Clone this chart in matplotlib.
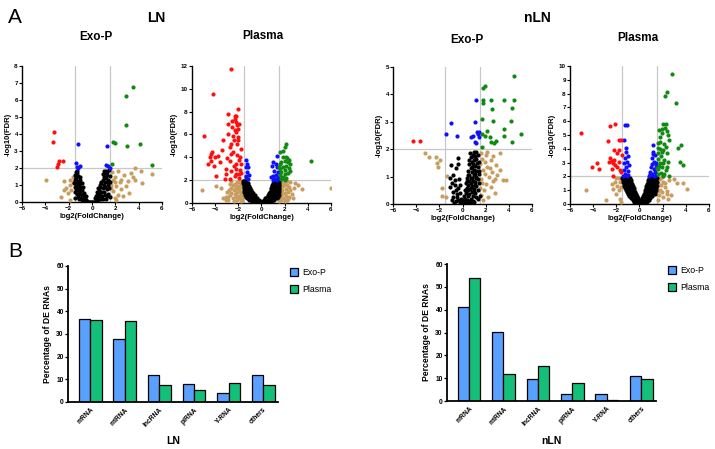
import matplotlib
matplotlib.use("Agg")
import matplotlib.pyplot as plt
from matplotlib.patches import Patch

plt.rcParams['font.family'] = ['Liberation Sans', 'DejaVu Sans']

# ---------------- volcano data: (log2FC, -log10FDR) ----------------
ln_exo_red = [(-3.3, 4.13), (-3.35, 3.56), (-2.5, 2.4), (-2.8, 2.4), (-2.9, 2.25), (-3.0, 2.08)]
ln_exo_blue = [(-1.16, 3.4), (-1.39, 2.31), (-1.27, 2.09), (-1.05, 2.11), (-1.19, 2.0),
               (1.25, 3.27), (1.19, 2.19), (1.33, 2.11), (1.5, 2.0)]
ln_exo_green = [(3.54, 6.79), (2.88, 6.26), (2.88, 4.56), (1.79, 3.56), (1.93, 3.48),
                (3.02, 3.27), (4.08, 3.39), (5.14, 2.15), (1.7, 2.23)]
ln_exo_tan = [(-3.94, 1.31), (-2.42, 1.21), (-1.85, 1.31), (-1.65, 1.17), (-1.93, 1.02),
              (-2.22, 0.82), (-1.79, 0.68), (-2.08, 0.53), (-2.65, 0.27), (-1.93, 0.14),
              (-1.6, 1.5), (-2.36, 0.72), (3.65, 2.0), (2.22, 1.8), (2.71, 1.6), (3.37, 1.7),
              (4.23, 1.8), (5.14, 1.64), (3.51, 1.5), (3.65, 1.31), (1.79, 1.31), (1.93, 1.15),
              (1.65, 1.02), (2.08, 0.92), (2.36, 1.15), (2.94, 0.92), (2.51, 0.76), (1.79, 0.63),
              (2.22, 0.43), (1.93, 0.23), (2.65, 0.33), (4.3, 1.12), (3.08, 1.21), (1.65, 0.82),
              (2.08, 0.14), (1.56, 0.33), (2.0, 1.5), (1.7, 1.75), (2.5, 1.3), (3.2, 0.55)]
ln_exo_black = [(-1.5, 1.6), (-1.4, 1.5), (-1.3, 1.7), (-1.2, 1.55), (-1.45, 1.3), (-1.3, 1.25),
                (-1.15, 1.2), (-1.0, 1.3), (-1.4, 1.05), (-1.25, 0.95), (-1.1, 1.0), (-0.95, 0.9),
                (-1.35, 0.75), (-1.2, 0.7), (-1.0, 0.65), (-0.85, 0.7), (-1.3, 0.5), (-1.1, 0.45),
                (-0.9, 0.4), (-0.75, 0.5), (-1.2, 0.3), (-1.0, 0.25), (-0.8, 0.2), (-0.6, 0.3),
                (-0.9, 0.1), (-0.7, 0.08), (-0.5, 0.12), (-0.4, 0.05), (-0.3, 0.02), (-1.1, 0.15),
                (-0.6, 0.15), (-1.25, 1.85), (-1.05, 1.45), (-0.9, 1.1), (-0.7, 0.35),
                (-1.45, 0.6), (-1.5, 0.9), (-1.35, 1.4), (-1.15, 0.55), (-1.05, 0.85), (-0.8, 0.9),
                (0.2, 0.03), (0.3, 0.08), (0.4, 0.15), (0.5, 0.2), (0.35, 0.35), (0.6, 0.3),
                (0.5, 0.5), (0.7, 0.45), (0.6, 0.7), (0.8, 0.6), (0.7, 0.9), (0.9, 0.8),
                (0.8, 1.1), (1.0, 1.0), (0.9, 1.3), (1.1, 1.2), (1.0, 1.5), (1.2, 1.4),
                (1.1, 1.7), (1.3, 1.6), (1.2, 1.85), (1.4, 1.3), (1.35, 1.0), (1.25, 0.75),
                (1.4, 0.5), (1.1, 0.4), (0.95, 0.2), (0.75, 0.15), (1.2, 0.2), (1.45, 0.8),
                (0.55, 0.05), (0.0, 0.01), (0.1, 0.02), (-0.1, 0.01), (-0.2, 0.03), (1.45, 1.9),
                (0.65, 1.0), (1.5, 1.55), (1.05, 0.6), (0.85, 0.35), (1.3, 0.35), (1.15, 0.9),
                (0.95, 1.65), (0.75, 1.2), (1.5, 1.15), (1.3, 1.75), (0.45, 0.6),
                (-1.55, 1.1), (-1.45, 0.25), (-0.65, 0.55), (-0.5, 0.35), (0.25, 0.25), (0.4, 0.4),
                (0.55, 0.85), (1.5, 0.3), (1.35, 1.2), (-1.4, 1.75), (-1.2, 1.05), (1.05, 1.85)]

ln_pla_red = [(-2.66, 11.77), (-4.19, 9.58), (-2.06, 8.26), (-2.86, 7.8), (-2.32, 7.59),
              (-2.26, 7.36), (-2.58, 7.15), (-2.17, 7.07), (-2.86, 6.92), (-2.09, 6.86),
              (-2.58, 6.66), (-2.03, 6.51), (-2.17, 6.22), (-2.89, 6.07), (-4.94, 5.9),
              (-2.46, 5.9), (-2.03, 5.78), (-2.66, 5.2), (-2.4, 5.49), (-2.0, 5.49),
              (-3.32, 5.49), (-2.75, 4.9), (-1.8, 4.76), (-3.38, 4.64), (-4.24, 4.47),
              (-4.36, 4.29), (-3.76, 4.15), (-2.6, 4.29), (-2.12, 4.23), (-4.47, 4.0),
              (-4.04, 4.0), (-2.98, 3.94), (-1.88, 4.0), (-1.94, 3.74), (-4.39, 3.65),
              (-3.61, 3.62), (-2.75, 3.65), (-4.62, 3.39), (-4.13, 3.27), (-2.23, 3.45),
              (-1.74, 3.45), (-3.04, 3.01), (-2.17, 3.01), (-1.83, 2.89), (-2.6, 2.8),
              (-3.04, 2.57), (-2.17, 2.57), (-1.74, 2.6), (-3.9, 2.34), (-2.32, 2.34),
              (-1.94, 2.22), (-2.75, 2.13), (-3.15, 2.13), (-2.3, 6.4), (-2.1, 5.2),
              (-2.5, 4.5), (-2.2, 7.6), (-1.95, 6.9), (-2.4, 3.2), (-1.9, 2.5)]
ln_pla_blue = [(-1.31, 3.74), (-1.22, 3.45), (-1.37, 3.15), (-1.14, 3.15), (-1.25, 2.69),
               (-1.11, 2.48), (-1.34, 2.28), (-1.19, 2.1), (-1.3, 2.4), (1.34, 4.09),
               (0.99, 3.56), (1.22, 3.42), (0.94, 3.27), (1.34, 3.12), (1.05, 2.83),
               (1.42, 2.69), (1.22, 2.48), (0.99, 2.39), (1.45, 2.31), (1.14, 2.1), (0.85, 2.25),
               (1.3, 2.05), (1.0, 2.05)]
ln_pla_green = [(2.14, 5.2), (1.57, 4.5), (2.0, 4.88), (1.86, 4.58), (2.09, 4.06), (1.86, 4.0),
                (2.35, 3.77), (2.0, 3.71), (4.3, 3.71), (1.71, 3.56), (2.3, 3.56), (2.45, 3.42),
                (1.57, 3.42), (2.14, 3.27), (1.86, 3.12), (2.35, 3.07), (1.57, 2.98), (2.0, 2.89),
                (1.71, 2.69), (2.3, 2.6), (2.0, 2.54), (1.57, 2.48), (1.86, 2.31), (2.14, 2.19),
                (1.66, 2.1), (2.0, 2.01), (2.45, 2.83), (1.53, 3.12), (2.2, 3.9), (1.8, 2.15)]
ln_pla_tan = [(-1.7, 1.9), (-1.9, 1.8), (-2.1, 1.85), (-2.3, 1.7), (-1.8, 1.6), (-2.0, 1.5),
              (-2.5, 1.55), (-1.7, 1.4), (-2.2, 1.35), (-2.6, 1.3), (-1.9, 1.2), (-2.4, 1.1),
              (-2.8, 1.15), (-1.75, 1.0), (-2.1, 0.95), (-2.6, 0.9), (-3.0, 0.95), (-1.8, 0.8),
              (-2.3, 0.75), (-2.0, 0.65), (-2.7, 0.7), (-1.7, 0.55), (-2.2, 0.5), (-2.5, 0.45),
              (-1.9, 0.4), (-1.7, 0.3), (-2.1, 0.25), (-2.4, 0.2), (-3.3, 0.4), (-3.1, 0.25),
              (-2.9, 0.5), (-1.8, 0.15), (-2.0, 1.05), (-2.35, 1.6), (-3.5, 1.3), (-2.6, 1.9),
              (-3.9, 1.52), (-5.1, 1.17), (-3.04, 0.53), (-2.89, 0.23), (-2.7, 1.7), (-1.65, 0.7),
              (1.6, 1.9), (1.8, 1.85), (2.0, 1.7), (1.7, 1.6), (2.2, 1.6), (1.9, 1.45), (2.4, 1.4),
              (1.6, 1.3), (2.1, 1.25), (1.8, 1.1), (2.5, 1.15), (1.65, 0.95), (2.0, 0.9),
              (2.3, 0.95), (1.8, 0.75), (2.6, 0.8), (1.6, 0.6), (2.1, 0.6), (1.9, 0.45),
              (2.4, 0.5), (1.7, 0.3), (2.2, 0.3), (2.0, 0.15), (1.55, 0.15), (2.86, 1.75),
              (3.15, 1.55), (3.5, 1.2), (6.0, 1.34), (2.3, 0.38), (2.0, 0.23), (2.7, 0.4),
              (2.45, 1.8), (1.75, 1.75), (2.2, 1.95), (1.65, 0.45), (2.8, 1.3)]
ln_pla_black_rows = [
    (1.9, [-1.6, -1.5, -1.4, -1.3, 1.1, 1.2, 1.3, 1.4, 1.5]),
    (1.75, [-1.6, -1.5, -1.4, -1.3, -1.2, 1.0, 1.1, 1.2, 1.3, 1.4, 1.5]),
    (1.6, [-1.55, -1.45, -1.35, -1.25, -1.15, 0.95, 1.05, 1.15, 1.25, 1.35, 1.45, 1.55]),
    (1.45, [-1.55, -1.45, -1.35, -1.25, -1.15, -1.05, 0.9, 1.0, 1.1, 1.2, 1.3, 1.4, 1.5]),
    (1.3, [-1.5, -1.4, -1.3, -1.2, -1.1, -1.0, 0.85, 0.95, 1.05, 1.15, 1.25, 1.35, 1.45, 1.55]),
    (1.15, [-1.5, -1.4, -1.3, -1.2, -1.1, -1.0, -0.9, 0.8, 0.9, 1.0, 1.1, 1.2, 1.3, 1.4, 1.5]),
    (1.0, [-1.5, -1.4, -1.3, -1.2, -1.1, -1.0, -0.9, -0.8, 0.7, 0.8, 0.9, 1.0, 1.1, 1.2, 1.3, 1.4, 1.5]),
    (0.85, [-1.45, -1.35, -1.25, -1.15, -1.05, -0.95, -0.85, -0.75, 0.65, 0.75, 0.85, 0.95, 1.05,
            1.15, 1.25, 1.35, 1.45]),
    (0.7, [-1.4, -1.3, -1.2, -1.1, -1.0, -0.9, -0.8, -0.7, -0.6, 0.55, 0.65, 0.75, 0.85, 0.95,
           1.05, 1.15, 1.25, 1.35, 1.5]),
    (0.55, [-1.35, -1.25, -1.15, -1.05, -0.95, -0.85, -0.75, -0.65, -0.55, 0.45, 0.55, 0.65, 0.75,
            0.85, 0.95, 1.05, 1.15, 1.25, 1.35, 1.45]),
    (0.4, [-1.25, -1.15, -1.05, -0.95, -0.85, -0.75, -0.65, -0.55, -0.45, -0.35, 0.3, 0.4, 0.5,
           0.6, 0.7, 0.8, 0.9, 1.0, 1.1, 1.2, 1.3]),
    (0.27, [-1.05, -0.95, -0.85, -0.75, -0.65, -0.55, -0.45, -0.35, -0.25, 0.2, 0.3, 0.4, 0.5,
            0.6, 0.7, 0.8, 0.9, 1.0, 1.1]),
    (0.15, [-0.8, -0.7, -0.6, -0.5, -0.4, -0.3, -0.2, -0.1, 0.1, 0.2, 0.3, 0.4, 0.5, 0.6, 0.7, 0.85]),
    (0.05, [-0.45, -0.35, -0.25, -0.15, -0.05, 0.05, 0.15, 0.25, 0.35, 0.45]),
]

nln_exo_red = [(-4.27, 2.3), (-3.64, 2.3)]
nln_exo_blue = [(-0.96, 2.97), (-1.42, 2.55), (-0.5, 2.48), (1.14, 3.78), (1.05, 2.99),
                (1.25, 2.63), (1.42, 2.63), (1.34, 2.54), (0.76, 2.43), (0.91, 2.48),
                (1.05, 2.27), (1.19, 2.21), (1.4, 2.46)]
nln_exo_green = [(4.42, 4.66), (1.94, 4.32), (1.74, 4.22), (1.8, 3.78), (1.74, 3.7), (2.45, 3.78),
                 (3.55, 3.78), (4.45, 3.78), (2.56, 3.46), (4.25, 3.52), (1.65, 3.09), (2.65, 3.04),
                 (4.19, 3.04), (3.55, 2.73), (2.14, 2.68), (1.71, 2.55), (1.91, 2.48), (2.4, 2.43),
                 (2.91, 2.31), (2.74, 2.21), (2.48, 2.26), (1.68, 2.09), (5.05, 2.55), (4.28, 2.25),
                 (3.62, 2.48)]
nln_exo_tan = [(-3.26, 1.87), (-2.91, 1.7), (-2.25, 1.7), (-2.19, 1.5), (-2.1, 1.34), (-1.37, 1.01),
               (-1.74, 0.57), (-1.74, 0.29), (-1.45, 0.26), (-1.97, 1.6), (1.62, 1.85), (2.06, 1.78),
               (1.71, 1.66), (2.64, 1.75), (3.22, 1.87), (1.97, 1.54), (2.49, 1.6), (2.92, 1.42),
               (2.14, 1.36), (1.77, 1.23), (2.58, 1.17), (3.22, 1.23), (2.29, 0.99), (1.62, 0.93),
               (2.77, 0.93), (3.5, 0.87), (3.79, 0.89), (2.06, 0.72), (2.49, 0.62), (1.85, 0.5),
               (2.77, 0.4), (1.62, 0.34), (2.2, 0.26), (1.55, 1.45), (1.9, 1.1), (2.35, 1.3),
               (1.7, 0.75), (2.6, 0.85), (2.1, 1.9), (1.55, 0.6), (2.95, 1.05), (1.8, 0.15)]
nln_exo_black = [(1.0, 1.9), (1.2, 1.9), (0.9, 1.8), (1.1, 1.75), (1.3, 1.8), (0.7, 1.7), (1.0, 1.6),
                 (1.2, 1.65), (0.8, 1.55), (1.4, 1.55), (0.6, 1.45), (0.9, 1.45), (1.1, 1.4),
                 (1.3, 1.35), (0.7, 1.3), (1.0, 1.25), (0.5, 1.2), (1.2, 1.2), (0.8, 1.15),
                 (1.4, 1.1), (0.6, 1.05), (0.95, 1.05), (1.15, 1.0), (0.4, 0.95), (0.75, 0.95),
                 (1.3, 0.9), (0.55, 0.85), (0.9, 0.85), (1.1, 0.8), (0.3, 0.75), (0.7, 0.75),
                 (1.45, 0.75), (0.5, 0.7), (0.85, 0.65), (1.2, 0.65), (0.35, 0.6), (0.65, 0.55),
                 (1.0, 0.55), (0.2, 0.5), (0.5, 0.5), (1.35, 0.5), (0.8, 0.45), (0.3, 0.4),
                 (1.1, 0.4), (0.6, 0.35), (0.15, 0.3), (0.45, 0.3), (0.9, 0.3), (0.25, 0.2),
                 (0.7, 0.2), (1.2, 0.25), (0.05, 0.15), (0.4, 0.15), (0.55, 0.1), (0.9, 0.12),
                 (-0.05, 0.05), (0.2, 0.05), (0.35, 0.08), (0.75, 0.05), (1.0, 0.08), (0.1, 0.02),
                 (0.6, 0.02), (1.45, 1.2), (1.5, 0.3), (0.95, 1.75), (1.25, 1.5), (0.65, 1.85),
                 (0.8, 1.35), (1.05, 1.1), (0.85, 0.95), (0.45, 1.05), (1.2, 0.95), (0.7, 0.6),
                 (1.05, 0.7), (0.35, 0.85), (0.95, 0.45), (0.6, 1.6), (1.35, 0.2),
                 (-1.0, 1.41), (-0.35, 1.68), (-0.43, 1.47), (-0.86, 1.07), (-1.12, 0.96),
                 (-0.63, 0.86), (-1.06, 0.61), (-0.86, 0.43), (-0.78, 0.25), (-0.49, 0.37),
                 (-0.35, 0.15), (-0.6, 0.1), (-0.25, 0.4), (-0.15, 0.2), (-0.4, 0.6), (-0.2, 0.05),
                 (-0.5, 0.25), (-0.1, 0.1), (-0.3, 0.9), (-0.55, 0.5), (-0.9, 0.15), (-0.7, 0.05),
                 (-0.95, 0.75), (-0.53, 1.31), (-0.2, 0.7), (-0.65, 0.7)]

nln_pla_red = [(-5.05, 5.17), (-2.56, 5.63), (-2.13, 5.78), (-1.81, 4.61), (-1.63, 4.61),
               (-2.76, 4.56), (-2.24, 3.91), (-1.78, 3.91), (-2.53, 3.3), (-2.41, 3.13),
               (-2.18, 3.18), (-2.61, 3.06), (-2.33, 2.94), (-2.13, 2.82), (-3.69, 2.94),
               (-4.09, 2.69), (-3.51, 2.5), (-1.49, 3.54), (-1.78, 3.06), (-1.98, 2.69),
               (-1.69, 2.45), (-2.41, 2.57), (-2.33, 2.04), (-1.61, 2.33), (-1.92, 3.67)]
nln_pla_blue = [(-1.26, 5.7), (-1.08, 5.73), (-1.32, 4.64), (-1.14, 4.03), (-1.17, 3.79),
                (-0.97, 3.47), (-1.26, 3.3), (-1.08, 3.06), (-1.32, 2.94), (-0.91, 2.82),
                (-1.17, 2.69), (-1.37, 2.45), (-1.03, 2.4), (-1.26, 2.16), (-0.97, 2.09),
                (-1.43, 2.04), (-1.11, 2.0), (1.2, 3.79), (1.35, 3.54), (1.11, 3.3), (1.27, 3.06),
                (1.05, 2.89), (1.39, 2.82), (0.99, 2.65), (1.22, 2.5), (0.88, 2.33), (1.35, 2.33),
                (1.05, 2.16), (1.43, 2.09), (0.82, 2.01), (1.22, 2.01), (1.2, 4.27), (1.45, 3.0),
                (1.4, 2.6), (0.95, 2.15), (1.15, 3.6)]
nln_pla_green = [(2.82, 9.44), (2.39, 8.11), (2.24, 7.84), (3.17, 7.31), (2.07, 5.78), (2.27, 5.78),
                 (1.78, 4.88), (1.98, 5.12), (2.44, 5.0), (2.56, 4.64), (3.6, 4.27), (3.34, 4.03),
                 (1.78, 4.51), (2.15, 4.34), (1.63, 4.03), (2.07, 3.91), (2.36, 3.67), (1.86, 3.47),
                 (1.63, 3.23), (2.15, 3.18), (2.5, 3.06), (1.78, 2.94), (3.51, 3.06), (3.72, 2.86),
                 (1.98, 2.69), (1.63, 2.5), (2.27, 2.45), (1.86, 2.26), (1.57, 2.16), (2.59, 2.04),
                 (2.07, 2.02), (1.69, 5.36), (1.92, 5.41), (2.2, 5.5), (1.6, 3.7), (1.95, 3.75),
                 (2.3, 4.1), (1.7, 2.75), (2.1, 2.2), (2.4, 2.7), (1.55, 2.6), (2.0, 3.0),
                 (1.6, 4.45), (2.35, 5.3), (1.75, 3.95)]
nln_pla_tan = [(-4.62, 1.02), (-2.85, 0.27), (-1.66, 0.39), (-1.6, 0.15), (-2.13, 1.6),
               (-2.36, 1.43), (-1.9, 1.29), (-2.27, 1.12), (-1.78, 1.0), (-2.04, 0.75),
               (-1.69, 1.6), (-1.55, 1.84), (-1.75, 1.85), (-2.0, 1.9), (-1.6, 1.2),
               (1.78, 1.8), (2.07, 1.6), (1.86, 1.36), (2.21, 1.24), (1.78, 1.04), (1.98, 0.87),
               (2.36, 0.75), (1.69, 0.63), (2.07, 0.51), (2.5, 0.39), (3.02, 1.84), (3.22, 1.53),
               (3.74, 1.53), (4.11, 1.12), (2.39, 0.92), (2.68, 0.63), (1.63, 0.27), (2.56, 1.77),
               (1.6, 1.5), (1.65, 1.9), (1.95, 1.95), (1.6, 0.95), (2.2, 1.5)]
nln_pla_black_rows = [
    (1.9, [-1.5, -1.4, -1.3, -1.2, -1.1, -1.0, -0.9, -0.8, 0.8, 0.9, 1.0, 1.1, 1.2, 1.3, 1.4, 1.5]),
    (1.75, [-1.45, -1.35, -1.25, -1.15, -1.05, -0.95, -0.85, -0.75, 0.75, 0.85, 0.95, 1.05, 1.15,
            1.25, 1.35, 1.45]),
    (1.6, [-1.4, -1.3, -1.2, -1.1, -1.0, -0.9, -0.8, -0.7, 0.7, 0.8, 0.9, 1.0, 1.1, 1.2, 1.3, 1.4, 1.5]),
    (1.45, [-1.35, -1.25, -1.15, -1.05, -0.95, -0.85, -0.75, -0.65, 0.65, 0.75, 0.85, 0.95, 1.05,
            1.15, 1.25, 1.35, 1.45]),
    (1.3, [-1.35, -1.25, -1.15, -1.05, -0.95, -0.85, -0.75, -0.6, 0.6, 0.7, 0.8, 0.9, 1.0, 1.1,
           1.2, 1.3, 1.4, 1.5]),
    (1.15, [-1.25, -1.15, -1.05, -0.95, -0.85, -0.75, -0.65, -0.5, 0.55, 0.65, 0.75, 0.85, 0.95,
            1.05, 1.15, 1.25, 1.35, 1.45]),
    (1.0, [-1.2, -1.1, -1.0, -0.9, -0.8, -0.7, -0.6, -0.45, 0.5, 0.6, 0.7, 0.8, 0.9, 1.0, 1.1,
           1.2, 1.3, 1.4]),
    (0.85, [-1.1, -1.0, -0.9, -0.8, -0.7, -0.6, -0.5, -0.4, 0.45, 0.55, 0.65, 0.75, 0.85, 0.95,
            1.05, 1.15, 1.25, 1.35]),
    (0.7, [-1.0, -0.9, -0.8, -0.7, -0.6, -0.5, -0.4, -0.3, 0.4, 0.5, 0.6, 0.7, 0.8, 0.9, 1.0,
           1.1, 1.2, 1.3]),
    (0.55, [-0.9, -0.8, -0.7, -0.6, -0.5, -0.4, -0.3, -0.2, 0.3, 0.4, 0.5, 0.6, 0.7, 0.8, 0.9,
            1.0, 1.1]),
    (0.4, [-0.75, -0.65, -0.55, -0.45, -0.35, -0.25, -0.15, 0.25, 0.35, 0.45, 0.55, 0.65, 0.75,
           0.85, 0.95]),
    (0.27, [-0.6, -0.5, -0.4, -0.3, -0.2, -0.1, 0.15, 0.25, 0.35, 0.45, 0.55, 0.65, 0.75, 0.85]),
    (0.15, [-0.45, -0.35, -0.25, -0.15, -0.05, 0.05, 0.15, 0.25, 0.35, 0.45, 0.55, 0.65]),
    (0.05, [-0.25, -0.15, -0.05, 0.05, 0.15, 0.25, 0.35]),
]

# ---------------- bar data ----------------
categories = ['mRNA', 'miRNA', 'lncRNA', 'piRNA', 'Y-RNA', 'others']
ln_exo_pct = [36.8, 27.6, 11.8, 7.8, 4.0, 11.8]
ln_pla_pct = [36.0, 35.7, 7.4, 5.1, 8.4, 7.4]
nln_exo_pct = [41.2, 30.1, 9.8, 3.2, 3.2, 11.0]
nln_pla_pct = [54.0, 11.7, 15.2, 7.8, 0.4, 9.7]

RED = '#ff1010'
BLUE = '#1010ff'
GREEN = '#108a10'
TAN = '#c89d60'
BAR_BLUE = '#5aa0ff'
BAR_GREEN = '#14bf7a'


def rows_to_pts(rows):
    return [(x, y) for y, xs in rows for x in xs]


def dots(ax, pts, color):
    ax.scatter([p[0] for p in pts], [p[1] for p in pts], s=9, c=color, linewidths=0, zorder=3)


def volcano(rect, black, tan, blue, red, green, ymax, ystep):
    ax = fig.add_axes(rect)
    ax.axvline(-1.5, color='#c8c8c8', lw=0.9, zorder=1)
    ax.axvline(1.5, color='#c8c8c8', lw=0.9, zorder=1)
    ax.axhline(2, color='#c8c8c8', lw=0.9, zorder=1)
    dots(ax, tan, TAN)
    dots(ax, black, 'black')
    dots(ax, blue, BLUE)
    dots(ax, red, RED)
    dots(ax, green, GREEN)
    ax.set_xlim(-6, 6)
    ax.set_ylim(0, ymax)
    ax.set_xticks(range(-6, 7, 2))
    ax.set_yticks(range(0, ymax + 1, ystep))
    for s in ['top', 'right']:
        ax.spines[s].set_visible(False)
    for s in ['left', 'bottom']:
        ax.spines[s].set_linewidth(1.0)
    ax.tick_params(labelsize=4.5, width=0.8, length=2, pad=1)
    for lab in ax.get_xticklabels() + ax.get_yticklabels():
        lab.set_fontweight('bold')
    ax.set_xlabel('log2(FoldChange)', fontsize=5.5, fontweight='bold', labelpad=1)
    ax.set_ylabel('-log10(FDR)', fontsize=5.5, fontweight='bold', labelpad=2)
    return ax


def bars(rect, exo, pla, xlabel, leg_x):
    ax = fig.add_axes(rect)
    x = list(range(len(categories)))
    w = 0.33
    ax.bar([i - w / 2 for i in x], exo, width=w, color=BAR_BLUE, edgecolor='black', lw=0.9, zorder=2)
    ax.bar([i + w / 2 for i in x], pla, width=w, color=BAR_GREEN, edgecolor='black', lw=0.9, zorder=2)
    ax.set_xlim(-0.64, 5.43)
    ax.set_ylim(0, 60)
    ax.set_yticks(range(0, 61, 10))
    ax.set_xticks(x)
    ax.set_xticklabels(categories, rotation=45, ha='right', rotation_mode='anchor',
                       fontsize=4.8, fontweight='bold')
    for s in ['top', 'right']:
        ax.spines[s].set_visible(False)
    for s in ['left', 'bottom']:
        ax.spines[s].set_linewidth(1.3)
    ax.tick_params(axis='y', labelsize=4.8, width=0.9, length=2, pad=1)
    ax.tick_params(axis='x', length=0, pad=3)
    for lab in ax.get_yticklabels():
        lab.set_fontweight('bold')
    ax.set_ylabel('Percentage of DE RNAs', fontsize=6.2, fontweight='bold', labelpad=3)
    ax.set_xlabel(xlabel, fontsize=7.5, fontweight='bold', labelpad=6)
    handles = [Patch(facecolor=BAR_BLUE, edgecolor='black', lw=0.9, label='Exo-P'),
               Patch(facecolor=BAR_GREEN, edgecolor='black', lw=0.9, label='Plasma')]
    ax.legend(handles=handles, loc='upper left', bbox_to_anchor=(leg_x, 1.01), frameon=False,
              fontsize=6.3, handlelength=0.9, handleheight=0.9, handletextpad=0.5,
              labelspacing=0.9, borderaxespad=0)
    return ax


fig = plt.figure(figsize=(7.15, 4.49), dpi=100)

volcano([0.0308, 0.550, 0.1958, 0.303], ln_exo_black, ln_exo_tan, ln_exo_blue,
        ln_exo_red, ln_exo_green, 8, 1)
volcano([0.2685, 0.548, 0.1944, 0.305], rows_to_pts(ln_pla_black_rows), ln_pla_tan,
        ln_pla_blue, ln_pla_red, ln_pla_green, 12, 2)
volcano([0.5497, 0.5457, 0.1944, 0.3051], nln_exo_black, nln_exo_tan, nln_exo_blue,
        nln_exo_red, nln_exo_green, 5, 1)
volcano([0.7972, 0.5457, 0.1944, 0.3073], rows_to_pts(nln_pla_black_rows), nln_pla_tan,
        nln_pla_blue, nln_pla_red, nln_pla_green, 10, 1)

bars([0.0951, 0.1047, 0.2937, 0.3029], ln_exo_pct, ln_pla_pct, 'LN', 1.04)
bars([0.6252, 0.1069, 0.2923, 0.3051], nln_exo_pct, nln_pla_pct, 'nLN', 1.04)

fig.text(0.021, 0.962, 'A', fontsize=15, ha='center', va='center')
fig.text(0.021, 0.44, 'B', fontsize=15, ha='center', va='center')
fig.text(0.218, 0.96, 'LN', fontsize=10, fontweight='bold', ha='center', va='center')
fig.text(0.752, 0.96, 'nLN', fontsize=10, fontweight='bold', ha='center', va='center')
fig.text(95.5 / 715, 1 - 37 / 449, 'Exo-P', fontsize=8.5, fontweight='bold', ha='center', va='center')
fig.text(263 / 715, 1 - 36 / 449, 'Plasma', fontsize=8.5, fontweight='bold', ha='center', va='center')
fig.text(467 / 715, 1 - 40 / 449, 'Exo-P', fontsize=8.5, fontweight='bold', ha='center', va='center')
fig.text(638 / 715, 1 - 38 / 449, 'Plasma', fontsize=8.5, fontweight='bold', ha='center', va='center')

fig.savefig('out.png', dpi=100)
